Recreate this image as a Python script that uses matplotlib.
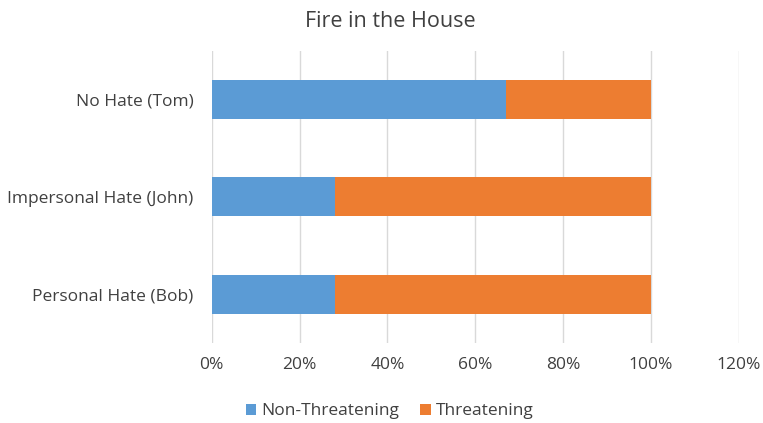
import matplotlib
matplotlib.use('Agg')
import matplotlib.pyplot as plt
from matplotlib.ticker import PercentFormatter

# data, top to bottom
categories = ['No Hate (Tom)', 'Impersonal Hate (John)', 'Personal Hate (Bob)']
non_threatening = [67, 28, 28]
threatening = [33, 72, 72]

BLUE = '#5B9BD5'
ORANGE = '#ED7D31'
TEXT = '#404040'

plt.rcParams['font.family'] = ['Open Sans', 'DejaVu Sans']

fig = plt.figure(figsize=(7.63, 4.23), dpi=100)
ax = fig.add_axes([0.2775, 0.189, 0.6904, 0.6915])

ypos = list(range(len(categories)))[::-1]
ax.barh(ypos, non_threatening, height=0.4, color=BLUE, label='Non-Threatening', zorder=3)
ax.barh(ypos, threatening, left=non_threatening, height=0.4, color=ORANGE,
        label='Threatening', zorder=3)

ax.set_xlim(0, 120)
ax.set_ylim(-0.5, 2.5)
ax.set_xticks(range(0, 121, 20))
ax.xaxis.set_major_formatter(PercentFormatter(decimals=0))
ax.set_yticks(ypos)
ax.set_yticklabels(categories)
ax.grid(axis='x', color='#D9D9D9', lw=1, zorder=0)
for s in ax.spines.values():
    s.set_visible(False)
ax.tick_params(length=0, labelsize=12.5, labelcolor=TEXT)
ax.tick_params(axis='y', pad=13)
ax.tick_params(axis='x', pad=10)

fig.text(0.512, 0.948, 'Fire in the House', fontsize=15.5, color=TEXT,
         ha='center', va='center')

fig.legend(loc='center', bbox_to_anchor=(0.511, 0.028), ncol=2, frameon=False,
           fontsize=12.5, handlelength=0.6, handleheight=0.6, columnspacing=1.2,
           handletextpad=0.3, labelcolor=TEXT)

fig.savefig('out.png', dpi=100)
